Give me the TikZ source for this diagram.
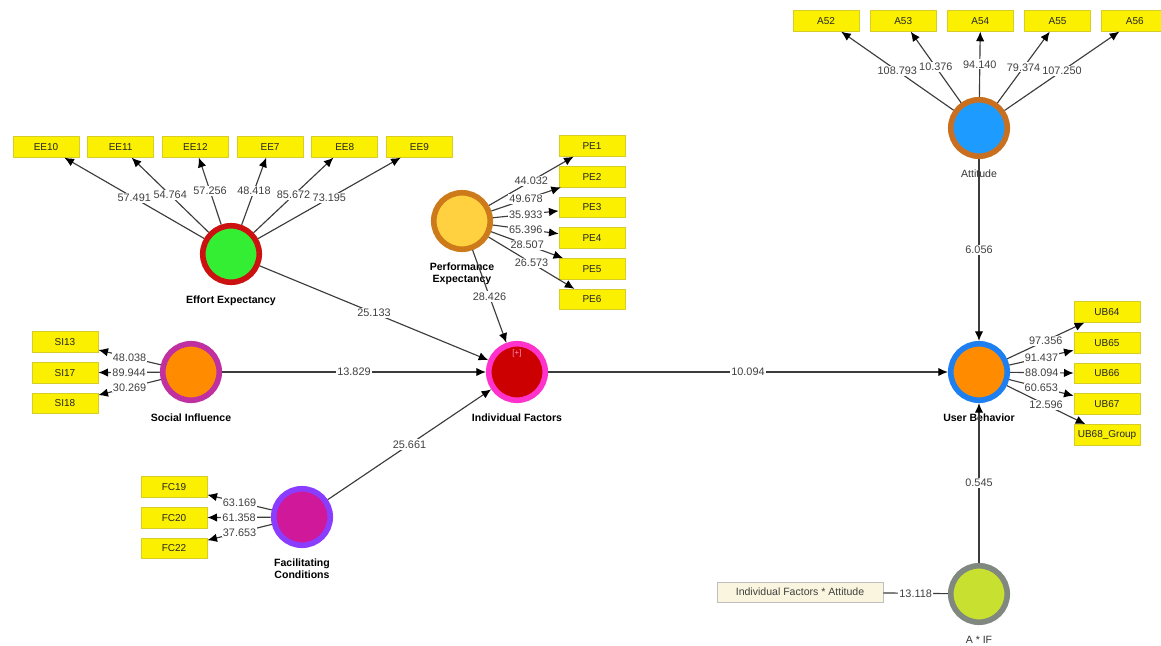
\documentclass[tikz,border=0pt]{standalone}
\usepackage{fontspec}
\setmainfont{Liberation Sans}
\usetikzlibrary{positioning,arrows.meta}
\definecolor{boxyellow}{RGB}{250,240,0}
\definecolor{boxedge}{RGB}{215,205,40}
\definecolor{modbox}{RGB}{250,245,222}
\definecolor{linegray}{RGB}{60,60,60}
\tikzset{
  lv/.style={draw, shape=circle, minimum size=1.13cm, line width=3.2pt, inner sep=0pt},
  lvname/.style={font=\fontsize{6}{7}\selectfont\bfseries, align=center, label distance=0.09cm},
  lvplain/.style={font=\fontsize{6}{7}\selectfont, text=black!80, align=center, label distance=0.09cm},
  ind/.style={draw=boxedge, fill=boxyellow, shape=rectangle, minimum width=1.32cm,
    minimum height=0.41cm, inner sep=0pt, font=\fontsize{5.7}{6}\selectfont, text=black!85},
  val/.style={fill=white, inner sep=0.7pt, font=\fontsize{6.2}{7}\selectfont, text=black!75},
  load/.style={draw=linegray, line width=0.65pt, -{Latex[length=5.5pt,width=4.8pt,color=black]}},
  plain/.style={draw=linegray, line width=0.65pt},
}

\begin{document}
\begin{tikzpicture}[x=0.02cm,y=-0.02cm]
  \useasboundingbox (0,0) rectangle (1161,646);

  % latent variables
  \node[lv, fill={rgb,255:red,51;green,238;blue,51}, draw={rgb,255:red,204;green,17;blue,17},
    label={[lvname]below:Effort Expectancy}] (EE) at (231,254) {};
  \node[lv, fill={rgb,255:red,255;green,208;blue,64}, draw={rgb,255:red,204;green,122;blue,26},
    label={[lvname]below:Performance\\Expectancy}] (PE) at (462,221) {};
  \node[lv, fill={rgb,255:red,30;green,155;blue,255}, draw={rgb,255:red,200;green,112;blue,32},
    label={[lvplain]below:Attitude}] (ATT) at (979,128) {};
  \node[lv, fill={rgb,255:red,255;green,140;blue,0}, draw={rgb,255:red,192;green,48;blue,160},
    label={[lvname]below:Social Influence}] (SI) at (191,372) {};
  \node[lv, fill={rgb,255:red,204;green,0;blue,0}, draw={rgb,255:red,255;green,51;blue,204},
    label={[lvname]below:Individual Factors}] (IF) at (517,372) {};
  \node[lv, fill={rgb,255:red,255;green,140;blue,0}, draw={rgb,255:red,30;green,128;blue,240},
    label={[lvname]below:User Behavior}] (UB) at (979,372) {};
  \node[lv, fill={rgb,255:red,208;green,24;blue,154}, draw={rgb,255:red,138;green,60;blue,255},
    label={[lvname]below:Facilitating\\Conditions}] (FC) at (302,517) {};
  \node[lv, fill={rgb,255:red,200;green,224;blue,48}, draw={rgb,255:red,128;green,136;blue,128},
    label={[lvplain]below:A * IF}] (AIF) at (979,594) {};
  \node[font=\fontsize{4.5}{5}\selectfont, text={rgb,255:red,255;green,150;blue,200}] (IFplus) at (517,353) {[+]};

  % indicators
  \node[ind] (EE10) at (46,147) {EE10};
  \node[ind, right=0.16cm of EE10] (EE11) {EE11};
  \node[ind, right=0.16cm of EE11] (EE12) {EE12};
  \node[ind, right=0.16cm of EE12] (EE7) {EE7};
  \node[ind, right=0.16cm of EE7] (EE8) {EE8};
  \node[ind, right=0.16cm of EE8] (EE9) {EE9};

  \node[ind] (PE1) at (592,146) {PE1};
  \node[ind, below=0.19cm of PE1] (PE2) {PE2};
  \node[ind, below=0.19cm of PE2] (PE3) {PE3};
  \node[ind, below=0.19cm of PE3] (PE4) {PE4};
  \node[ind, below=0.19cm of PE4] (PE5) {PE5};
  \node[ind, below=0.19cm of PE5] (PE6) {PE6};

  \node[ind] (A52) at (826,21) {A52};
  \node[ind, right=0.21cm of A52] (A53) {A53};
  \node[ind, right=0.21cm of A53] (A54) {A54};
  \node[ind, right=0.21cm of A54] (A55) {A55};
  \node[ind, right=0.21cm of A55] (A56) {A56};

  \node[ind] (SI13) at (65,342) {SI13};
  \node[ind, below=0.19cm of SI13] (SI17) {SI17};
  \node[ind, below=0.19cm of SI17] (SI18) {SI18};

  \node[ind] (FC19) at (174,487) {FC19};
  \node[ind, below=0.19cm of FC19] (FC20) {FC20};
  \node[ind, below=0.19cm of FC20] (FC22) {FC22};

  \node[ind] (UB64) at (1107,312) {UB64};
  \node[ind, below=0.19cm of UB64] (UB65) {UB65};
  \node[ind, below=0.19cm of UB65] (UB66) {UB66};
  \node[ind, below=0.19cm of UB66] (UB67) {UB67};
  \node[ind, below=0.19cm of UB67] (UB68) {UB68\_Group};

  \node[ind, draw=black!25, fill=modbox, minimum width=3.32cm, minimum height=0.4cm,
    font=\fontsize{6}{7}\selectfont, text=black!75] (IFxA) at (800,592) {Individual Factors * Attitude};

  % outer loadings
  \draw[load] (EE) -- node[val] {57.491} (EE10);
  \draw[load] (EE) -- node[val] {54.764} (EE11);
  \draw[load] (EE) -- node[val] {57.256} (EE12);
  \draw[load] (EE) -- node[val] {48.418} (EE7);
  \draw[load] (EE) -- node[val] {85.672} (EE8);
  \draw[load] (EE) -- node[val] {73.195} (EE9);

  \draw[load] (PE) -- node[val] {44.032} (PE1);
  \draw[load] (PE) -- node[val] {49.678} (PE2);
  \draw[load] (PE) -- node[val] {35.933} (PE3);
  \draw[load] (PE) -- node[val] {65.396} (PE4);
  \draw[load] (PE) -- node[val] {28.507} (PE5);
  \draw[load] (PE) -- node[val] {26.573} (PE6);

  \draw[load] (ATT) -- node[val] {108.793} (A52);
  \draw[load] (ATT) -- node[val] {10.376} (A53);
  \draw[load] (ATT) -- node[val] {94.140} (A54);
  \draw[load] (ATT) -- node[val] {79.374} (A55);
  \draw[load] (ATT) -- node[val] {107.250} (A56);

  \draw[load] (SI) -- node[val] {48.038} (SI13);
  \draw[load] (SI) -- node[val] {89.944} (SI17);
  \draw[load] (SI) -- node[val] {30.269} (SI18);

  \draw[load] (FC) -- node[val] {63.169} (FC19);
  \draw[load] (FC) -- node[val] {61.358} (FC20);
  \draw[load] (FC) -- node[val] {37.653} (FC22);

  \draw[load] (UB) -- node[val] {97.356} (UB64);
  \draw[load] (UB) -- node[val] {91.437} (UB65);
  \draw[load] (UB) -- node[val] {88.094} (UB66);
  \draw[load] (UB) -- node[val] {60.653} (UB67);
  \draw[load] (UB) -- node[val] {12.596} (UB68);

  \draw[plain] (IFxA) -- node[val] {13.118} (AIF);

  % inner model
  \draw[load] (EE) -- node[val] {25.133} (IF);
  \draw[load] (PE) -- node[val] {28.426} (IF);
  \draw[load] (SI) -- node[val] {13.829} (IF);
  \draw[load] (FC) -- node[val] {25.661} (IF);
  \draw[load] (IF) -- node[val] {10.094} (UB);
  \draw[load] (ATT) -- node[val] {6.056} (UB);
  \draw[load] (AIF) -- node[val] {0.545} (UB);

\end{tikzpicture}
\end{document}
